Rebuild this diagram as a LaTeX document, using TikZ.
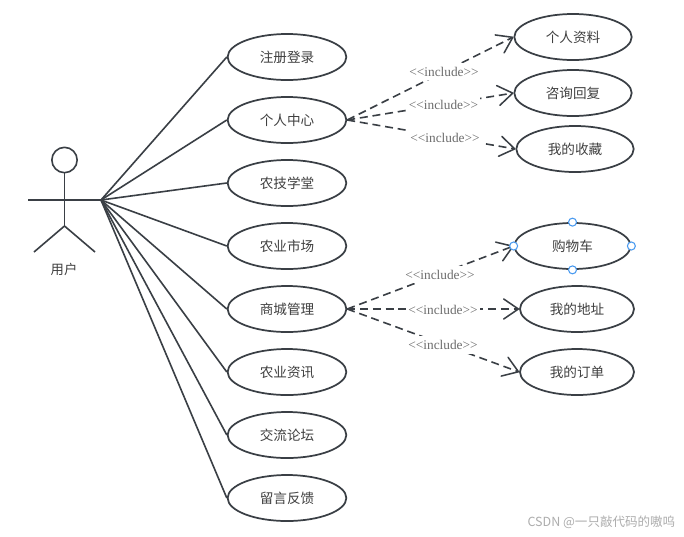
\documentclass[tikz,border=0pt]{standalone}
\usepackage{fontspec}
\setmainfont{Noto Sans CJK SC}
\newfontfamily\serifinc{Liberation Serif}
\usetikzlibrary{arrows.meta,shapes.geometric}
\definecolor{inkline}{HTML}{3A3F45}
\definecolor{inktext}{HTML}{404040}
\definecolor{handle}{HTML}{4A9BF0}
\tikzset{
  x=0.75pt,y=-0.75pt,
  usecase/.style={draw=inkline,line width=1.3pt,ellipse,inner sep=0pt,text=inktext,font=\fontsize{10.2pt}{12pt}\selectfont,minimum height=34.5pt},
  leftcase/.style={usecase,minimum width=89pt},
  rightcase/.style={usecase,minimum width=88pt},
  rightnarrow/.style={usecase,minimum width=85.5pt},
  assoc/.style={draw=inkline,line width=1.2pt},
  incl/.style={draw=inkline,line width=1.2pt,dash pattern=on 6pt off 3.6pt,-{Straight Barb[length=11pt,width=15pt,line width=1.15pt,round]}},
  incltag/.style={fill=white,inner xsep=1.5pt,inner ysep=3pt,text=gray!85!black,font=\serifinc\fontsize{10pt}{11pt}\selectfont},
  limb/.style={draw=inkline,line width=1.2pt},
  selhandle/.style={circle,draw=handle,fill=white,line width=0.8pt,inner sep=0pt,minimum size=6pt},
}
\begin{document}
\begin{tikzpicture}
\useasboundingbox (0,0) rectangle (684,536);
\fill[white] (0,0) rectangle (684,536);
% actor
\node[draw=inkline,line width=1.2pt,circle,minimum size=19pt,inner sep=0pt] (head) at (64.5,160) {};
\coordinate (hip) at (64.5,226);
\coordinate (lefthand) at (28,200);
\coordinate (hand) at (101,200);
\coordinate (leftfoot) at (34,252);
\coordinate (rightfoot) at (95,252);
\draw[limb] (head.south) -- (hip);
\draw[limb] (lefthand) -- (hand);
\draw[limb] (leftfoot) -- (hip) -- (rightfoot);
\node[text=inktext,font=\fontsize{10pt}{11pt}\selectfont] (actorlabel) at (64,269) {用户};
% left cases
\node[leftcase] (a1) at (287,57) {注册登录};
\node[leftcase] (a2) at (287,120) {个人中心};
\node[leftcase] (a3) at (287,183) {农技学堂};
\node[leftcase] (a4) at (287,246) {农业市场};
\node[leftcase] (a5) at (287,309) {商城管理};
\node[leftcase] (a6) at (287,372) {农业资讯};
\node[leftcase] (a7) at (287,435) {交流论坛};
\node[leftcase] (a8) at (287,498) {留言反馈};
% right cases
\node[rightcase] (b1) at (573,37) {个人资料};
\node[rightcase] (b2) at (573,93) {咨询回复};
\node[rightcase] (b3) at (575,149) {我的收藏};
\node[rightcase,minimum width=87pt] (c1) at (572.5,246) {购物车};
\node[rightnarrow] (c2) at (577,309) {我的地址};
\node[rightnarrow] (c3) at (577,372) {我的订单};
% associations
\foreach \t in {a1,a2,a3,a4,a5,a6,a7,a8} \draw[assoc] (hand) -- (\t.west);
% includes
\foreach \s/\t/\lx/\ly in {a2/b1/444/71.5,a2/b2/443.5/104.5,a2/b3/445/137.5,a5/c1/440/274.5,a5/c2/443/309.5,a5/c3/443/345}{
  \draw[incl] (\s.east) -- (\t.west);
  \node[incltag] at (\lx,\ly) {<{}<include>{}>};
}
% selection handles
\node[selhandle] (h1) at (c1.north) {};
\node[selhandle] (h2) at (c1.south) {};
\node[selhandle] (h3) at (c1.west) {};
\node[selhandle] (h4) at (c1.east) {};
% watermark
\node[anchor=east,inner sep=0pt,text=black!32,font=\fontsize{9.4pt}{10pt}\selectfont] (wm) at (675.5,522) {CSDN @一只敲代码的嗷呜};
\end{tikzpicture}
\end{document}
